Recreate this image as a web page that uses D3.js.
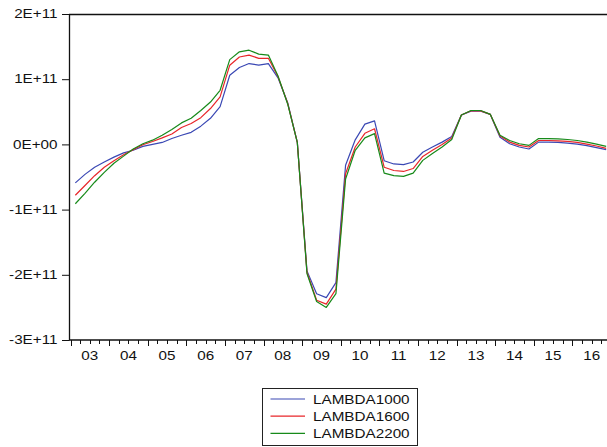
<!DOCTYPE html>
<html>
<head>
<meta charset="utf-8">
<script src="https://cdn.jsdelivr.net/npm/d3@7"></script>
<style>
  html, body { margin: 0; padding: 0; background: #fff; }
  svg { display: block; font-family: "Liberation Sans", Arial, sans-serif; }
</style>
</head>
<body>
<svg id="chart" width="607" height="447"></svg>
<script>
// Quarterly observations 2003Q1 .. 2016Q4, values in units of 1E+09
const years = ["03","04","05","06","07","08","09","10","11","12","13","14","15","16"];
const seriesNames = ["LAMBDA1000", "LAMBDA1600", "LAMBDA2200"];

const lambda1000 = [
  -59, -46, -35, -27, -19.5, -13, -9, -3,
  0, 3, 9, 14, 18.5, 28, 40, 58,
  106, 118, 124, 121.5, 124, 102, 64, 3,
  -194, -229, -235, -212, -32, 7, 31, 36,
  -25, -30, -31, -27, -12, -4, 3.5, 12,
  45, 51, 51, 46, 11, 1, -4, -7,
  3.5, 3.5, 3, 2, 0.5, -2, -5, -8
];
const lambda1600 = [
  -78, -63, -48, -35, -25, -16, -8, -0.5,
  4.5, 10, 16, 26, 32, 41, 55, 73,
  121.5, 134, 137, 132, 132, 104, 63, 3,
  -196, -239, -245, -222, -45, -4, 17, 24,
  -35, -40, -41.5, -37, -18.5, -9, 0, 10,
  45, 51.5, 51.5, 46, 13, 3.5, -1.5, -4,
  6, 6, 5.5, 4.5, 3, 0.5, -2.5, -6
];
const lambda2200 = [
  -91, -75, -58, -43, -29, -18, -7, 1,
  6.5, 14, 23, 33, 40, 52, 65, 83,
  130, 142, 144.5, 138.5, 137, 105, 62, 3,
  -198, -241, -250, -229, -53, -9, 10, 16.5,
  -44, -48, -49, -44, -24.5, -14, -4, 7.5,
  45, 52, 52, 46, 14, 6, 1, -1.5,
  9, 9, 8.5, 7.5, 6, 3.5, 0.5, -3
];
const yTicks = [200, 100, 0, -100, -200, -300];
const yTickLabels = ["2E+11", "1E+11", "0E+00", "-1E+11", "-2E+11", "-3E+11"];

const colors = ["#3a48b4", "#e8262a", "#178a1a"];
const series = [lambda1000, lambda1600, lambda2200];
const nObs = lambda1000.length;
const stretch = 1.22; // horizontally widened lettering
const fontSize = 12.5;

const svg = d3.select("#chart");
const plotLeft = 69, plotTop = 14, plotBottom = 340, plotRight = 607;

const x = d3.scaleLinear().domain([0, nObs]).range([70.5, 611]);
const y = d3.scaleLinear().domain([-300, 200]).range([plotBottom, plotTop]);

// frame line along the top
svg.append("line")
  .attr("x1", plotLeft).attr("x2", plotRight)
  .attr("y1", plotTop + 0.5).attr("y2", plotTop + 0.5)
  .attr("stroke", "#111").attr("stroke-width", 1.3);

// y axis
const yAxis = svg.append("g")
  .attr("transform", `translate(${plotLeft},0)`)
  .call(d3.axisLeft(y).tickValues(yTicks)
    .tickFormat((d, i) => yTickLabels[i]).tickSize(7).tickSizeOuter(0));
yAxis.select(".domain").attr("stroke", "#111").attr("stroke-width", 1.3);
yAxis.selectAll(".tick line").attr("stroke", "#111");
yAxis.selectAll(".tick text")
  .attr("x", -11.5 / stretch)
  .attr("dy", "0.3em")
  .attr("transform", `scale(${stretch},1)`)
  .attr("font-size", fontSize)
  .attr("font-family", "Liberation Sans, Arial, sans-serif")
  .attr("fill", "#111");

// x axis: quarter ticks, year ticks, year labels
const xAxisG = svg.append("g").attr("transform", `translate(0,${plotBottom})`);
xAxisG.append("line")
  .attr("x1", plotLeft).attr("x2", 611)
  .attr("y1", 0).attr("y2", 0)
  .attr("stroke", "#111").attr("stroke-width", 1.3);
const quarterTicks = d3.range(0, nObs + 1);
xAxisG.selectAll("line.q")
  .data(quarterTicks)
  .join("line")
  .attr("class", "q")
  .attr("x1", d => Math.round(x(d)) + 0.5).attr("x2", d => Math.round(x(d)) + 0.5)
  .attr("y1", 0).attr("y2", d => d % 4 === 0 ? 6 : 4)
  .attr("stroke", "#111").attr("stroke-width", 1);
xAxisG.selectAll("g.yl")
  .data(years)
  .join("g")
  .attr("class", "yl")
  .attr("transform", (d, i) => `translate(${x(i * 4 + 2)},19.5) scale(${stretch},1)`)
  .append("text")
  .attr("text-anchor", "middle")
  .attr("font-size", fontSize)
  .attr("fill", "#111")
  .text(d => d);

// series lines
const line = d3.line()
  .x((d, i) => x(i + 0.5))
  .y(d => y(d));
svg.selectAll("path.series")
  .data(series)
  .join("path")
  .attr("class", "series")
  .attr("d", d => line(d))
  .attr("fill", "none")
  .attr("stroke", (d, i) => colors[i])
  .attr("stroke-width", 1.2)
  .attr("stroke-linejoin", "round");

// legend
const legend = svg.append("g");
legend.append("rect")
  .attr("x", 262.5).attr("y", 388.5)
  .attr("width", 155).attr("height", 57)
  .attr("fill", "#fff").attr("stroke", "#222").attr("stroke-width", 1);
const rows = legend.selectAll("g.row")
  .data(seriesNames)
  .join("g")
  .attr("class", "row")
  .attr("transform", (d, i) => `translate(0,${399 + i * 17.2})`);
rows.append("line")
  .attr("x1", 270.5).attr("x2", 305)
  .attr("y1", 0).attr("y2", 0)
  .attr("stroke", (d, i) => colors[i]).attr("stroke-width", 1.2);
rows.append("text")
  .attr("transform", `translate(313,4.5) scale(${stretch},1)`)
  .attr("font-size", fontSize)
  .attr("fill", "#111")
  .text(d => d);
</script>
</body>
</html>
